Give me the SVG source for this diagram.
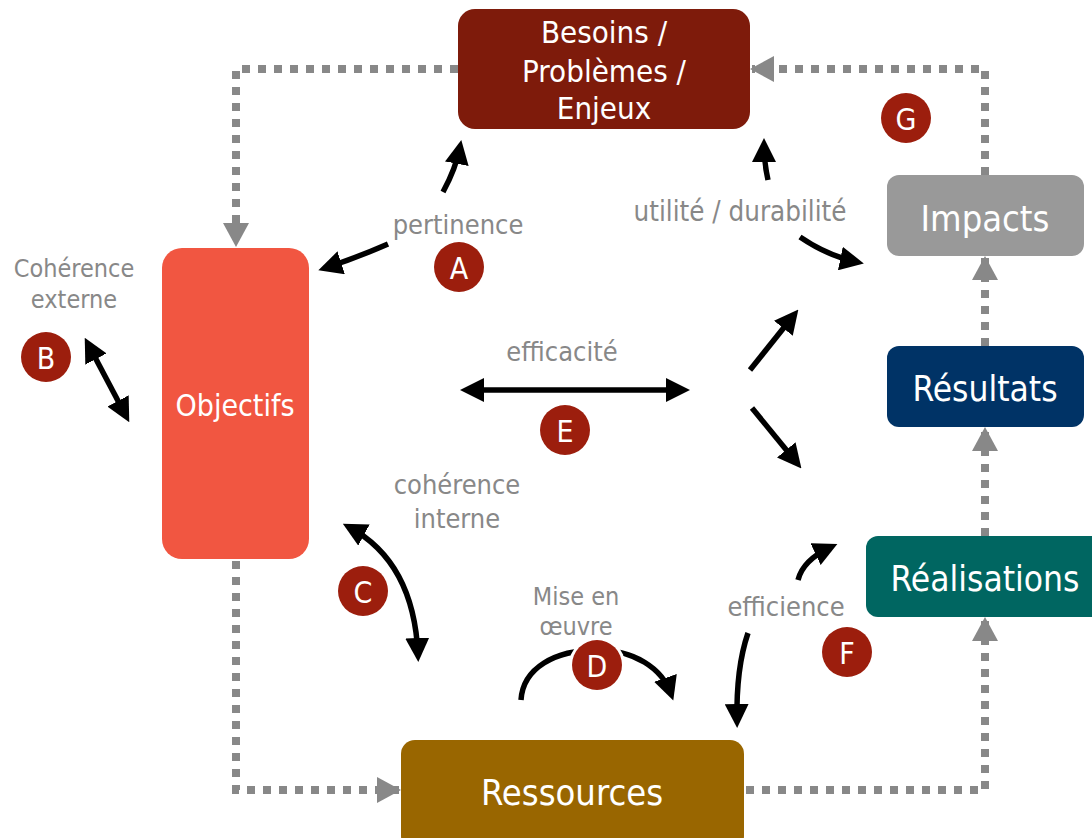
<svg xmlns="http://www.w3.org/2000/svg" width="1092" height="838" viewBox="0 0 1092 838">
<style>
.t{font-family:"DejaVu Sans Condensed","DejaVu Sans","Liberation Sans",sans-serif;font-stretch:condensed;text-anchor:middle;dominant-baseline:central}
.w{fill:#ffffff}
.g{fill:#888888}
.dot{fill:none;stroke:#888888;stroke-width:8;stroke-dasharray:8 8}
.blk{fill:none;stroke:#000000;stroke-width:5.5}
.badge{fill:#9c1e0d}
</style>
<defs>
<marker id="ga" markerUnits="userSpaceOnUse" markerWidth="24" markerHeight="26" refX="22" refY="13" orient="auto">
<path d="M0,0 L24,13 L0,26 z" fill="#888888"/>
</marker>
<marker id="ba" markerUnits="userSpaceOnUse" markerWidth="24" markerHeight="24" refX="17" refY="12" orient="auto-start-reverse">
<path d="M0,0 L24,12 L0,24 z" fill="#000000"/>
</marker>
</defs>
<rect width="1092" height="838" fill="#ffffff"/>

<g id="connectors">
<path class="dot" d="M458,69 H236 V245" marker-end="url(#ga)"/>
<path class="dot" d="M985,175 V69 H752" marker-end="url(#ga)"/>
<path class="dot" d="M985,346 V258" marker-end="url(#ga)"/>
<path class="dot" d="M985,536 V429" marker-end="url(#ga)"/>
<path class="dot" d="M746,790 H985 V619" marker-end="url(#ga)"/>
<path class="dot" d="M236,561 V790 H399" marker-end="url(#ga)"/>

<path class="blk" d="M443,192 Q456,168 460,147" marker-end="url(#ba)"/>
<path class="blk" d="M388,244 Q356,258 325,268" marker-end="url(#ba)"/>
<path class="blk" d="M768,180 Q764,162 764,145" marker-end="url(#ba)"/>
<path class="blk" d="M800,237 Q828,256 857,262" marker-end="url(#ba)"/>
<path class="blk" d="M88,344 L126,416" marker-start="url(#ba)" marker-end="url(#ba)"/>
<path class="blk" d="M467,390 L683,390" marker-start="url(#ba)" marker-end="url(#ba)"/>
<path class="blk" d="M750,370 L794,315" marker-end="url(#ba)"/>
<path class="blk" d="M752,408 L797,463" marker-end="url(#ba)"/>
<path class="blk" d="M349,527 Q414,562 418,655" marker-start="url(#ba)" marker-end="url(#ba)"/>
<path class="blk" d="M521,700 C523,668 555,650 597,650 C634,650 662,668 671,694" marker-end="url(#ba)"/>
<path class="blk" d="M748,633 Q736,668 737,721" marker-end="url(#ba)"/>
<path class="blk" d="M798,580 Q803,560 831,547" marker-end="url(#ba)"/>
</g>

<g id="besoins">
<rect x="458" y="9" width="292" height="120" rx="17" fill="#7e1b0b"/>
<text class="t w" x="604" y="32" font-size="31">Besoins /</text>
<text class="t w" x="604" y="71" font-size="31">Problèmes /</text>
<text class="t w" x="604" y="108" font-size="31">Enjeux</text>
</g>
<g id="objectifs">
<rect x="162" y="248" width="147" height="311" rx="20" fill="#f15641"/>
<text class="t w" x="235" y="405" font-size="30">Objectifs</text>
</g>
<g id="impacts">
<rect x="887" y="175" width="197" height="81" rx="12" fill="#999999"/>
<text class="t w" x="985" y="218" font-size="36">Impacts</text>
</g>
<g id="resultats">
<rect x="887" y="346" width="197" height="81" rx="12" fill="#003366"/>
<text class="t w" x="985" y="389" font-size="35">Résultats</text>
</g>
<g id="realisations">
<rect x="866" y="536" width="240" height="81" rx="12" fill="#006661"/>
<text class="t w" x="985" y="579" font-size="35">Réalisations</text>
</g>
<g id="ressources">
<rect x="401" y="740" width="343" height="110" rx="14" fill="#996600"/>
<text class="t w" x="572" y="792" font-size="36">Ressources</text>
</g>

<g id="labels">
<text class="t g" x="458" y="224" font-size="27">pertinence</text>
<text class="t g" x="740" y="211" font-size="27.5">utilité / durabilité</text>
<text class="t g" x="74" y="268" font-size="25">Cohérence</text>
<text class="t g" x="74" y="299" font-size="25">externe</text>
<text class="t g" x="562" y="351" font-size="27">efficacité</text>
<text class="t g" x="457" y="484" font-size="27">cohérence</text>
<text class="t g" x="457" y="518" font-size="27">interne</text>
<text class="t g" x="576" y="596" font-size="25">Mise en</text>
<text class="t g" x="576" y="626" font-size="25">œuvre</text>
<text class="t g" x="786" y="606" font-size="27">efficience</text>
</g>

<g id="badge-A"><circle class="badge" cx="459" cy="267" r="25"/><text class="t w" x="459" y="268" font-size="30">A</text></g>
<g id="badge-B"><circle class="badge" cx="46" cy="357" r="25"/><text class="t w" x="46" y="358" font-size="30">B</text></g>
<g id="badge-C"><circle class="badge" cx="363" cy="591" r="25"/><text class="t w" x="363" y="592" font-size="30">C</text></g>
<g id="badge-D"><circle cx="597" cy="665" r="28" fill="#ffffff"/><circle class="badge" cx="597" cy="665" r="25"/><text class="t w" x="597" y="666" font-size="30">D</text></g>
<g id="badge-E"><circle class="badge" cx="565" cy="430" r="25"/><text class="t w" x="565" y="431" font-size="30">E</text></g>
<g id="badge-F"><circle class="badge" cx="847" cy="652" r="25"/><text class="t w" x="847" y="653" font-size="30">F</text></g>
<g id="badge-G"><circle class="badge" cx="906" cy="118" r="25"/><text class="t w" x="906" y="119" font-size="30">G</text></g>
</svg>
